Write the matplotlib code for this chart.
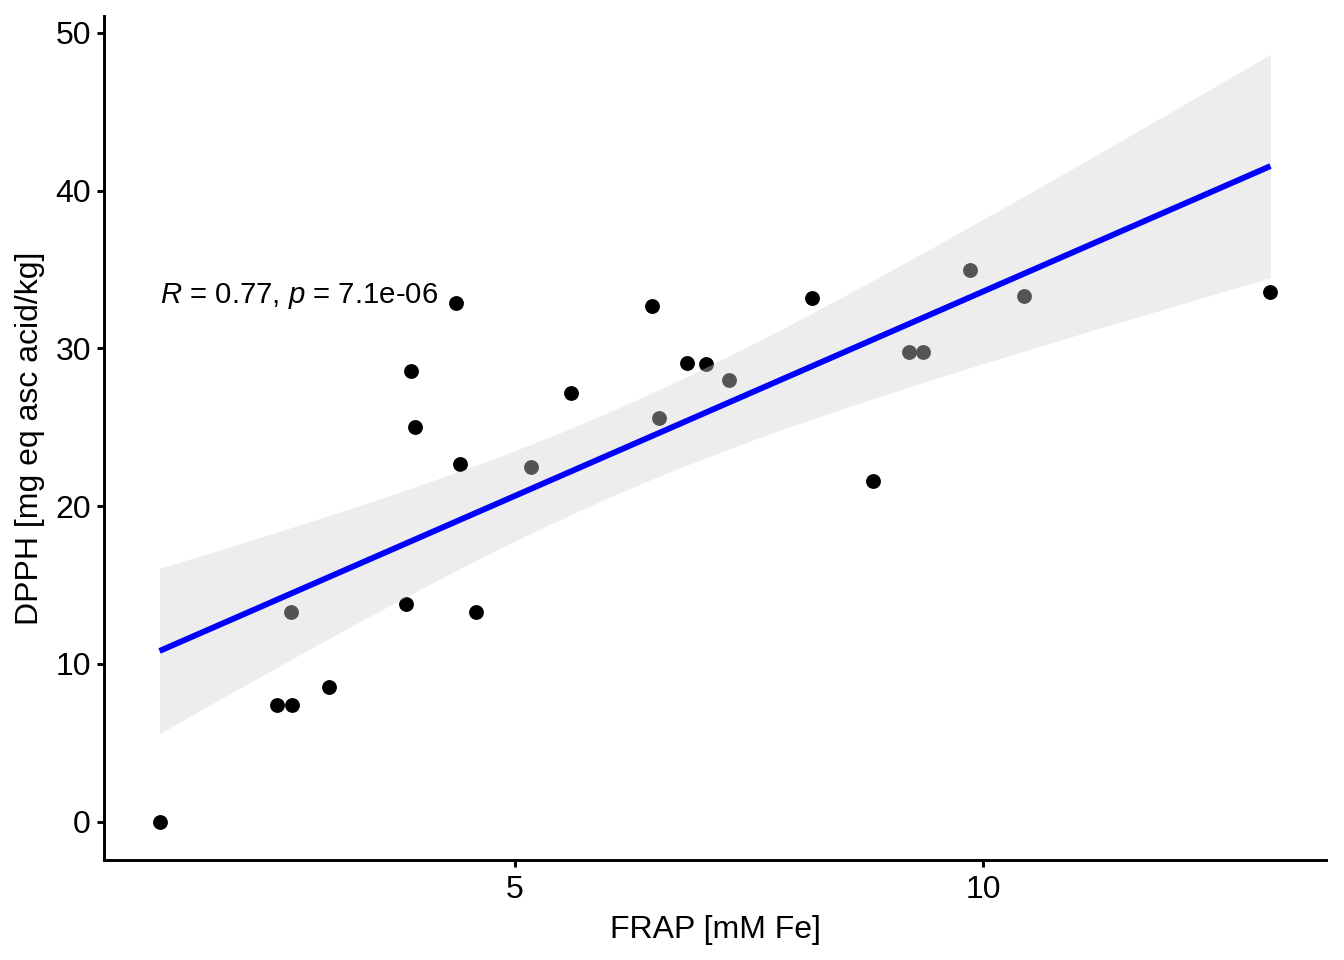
import numpy as np
import matplotlib
matplotlib.use("Agg")
import matplotlib.pyplot as plt

# Data
frap = [1.205, 2.46, 2.62, 2.61, 3.01, 3.84, 3.89, 3.93, 4.37, 4.41, 4.58,
        5.17, 5.60, 6.46, 6.54, 6.84, 7.04, 7.29, 8.17, 8.82, 9.21, 9.36,
        9.86, 10.44, 13.07]
dpph = [0.0, 7.4, 7.4, 13.3, 8.54, 13.8, 28.6, 25.0, 32.85, 22.66, 13.3,
        22.47, 27.2, 32.7, 25.6, 29.1, 29.0, 28.0, 33.2, 21.6, 29.75, 29.75,
        35.0, 33.3, 33.6]
x_ticks = [5, 10]
y_ticks = [0, 10, 20, 30, 40, 50]
cor_label = r"$R$ = 0.77, $p$ = 7.1e-06"
x_label = "FRAP [mM Fe]"
y_label = "DPPH [mg eq asc acid/kg]"

plt.rcParams['font.family'] = ['Liberation Sans', 'DejaVu Sans']
plt.rcParams['mathtext.fontset'] = 'custom'
plt.rcParams['mathtext.rm'] = 'Liberation Sans'
plt.rcParams['mathtext.it'] = 'Liberation Sans:italic'

x = np.array(frap)
y = np.array(dpph)
n = len(x)
slope, intercept = np.polyfit(x, y, 1)
xs = np.linspace(x.min(), x.max(), 80)
ys = intercept + slope * xs
resid = y - (intercept + slope * x)
s = np.sqrt(np.sum(resid ** 2) / (n - 2))
sxx = np.sum((x - x.mean()) ** 2)
se = s * np.sqrt(1.0 / n + (xs - x.mean()) ** 2 / sxx)
tcrit = 2.0687  # t quantile 0.975, df = 23
lo = ys - tcrit * se
hi = ys + tcrit * se

fig = plt.figure(figsize=(7, 5), dpi=192)
ax = fig.add_axes([104 / 1344, 1 - 860 / 960, (1326 - 104) / 1344, (860 - 16) / 960])

ax.scatter(x, y, s=31, color='black', linewidths=0, zorder=2)
ax.fill_between(xs, lo, hi, color='#D3D3D3', alpha=0.4, linewidth=0, zorder=3)
ax.plot(xs, ys, color='blue', linewidth=2.2, zorder=4, solid_capstyle='butt')

ax.text(x.min(), 33.3, cor_label, fontsize=11.0, ha='left', va='center', zorder=5)

xr = x.max() - x.min()
ax.set_xlim(x.min() - 0.05 * xr, x.max() + 0.05 * xr)
ymin = min(y.min(), lo.min())
ymax = max(y.max(), hi.max())
yr = ymax - ymin
ax.set_ylim(ymin - 0.05 * yr, ymax + 0.05 * yr)

ax.set_xticks(x_ticks)
ax.set_yticks(y_ticks)
ax.tick_params(axis='both', labelsize=12, length=2.75, width=1.1, color='black',
               labelcolor='black', pad=2.2)
ax.tick_params(axis='x', pad=3.0)
for side in ['top', 'right']:
    ax.spines[side].set_visible(False)
for side in ['left', 'bottom']:
    ax.spines[side].set_linewidth(1.1)
    ax.spines[side].set_color('black')

ax.set_xlabel(x_label, fontsize=12, labelpad=3.5)
ax.set_ylabel(y_label, fontsize=12, labelpad=4)

fig.savefig("out.png", dpi=192)
